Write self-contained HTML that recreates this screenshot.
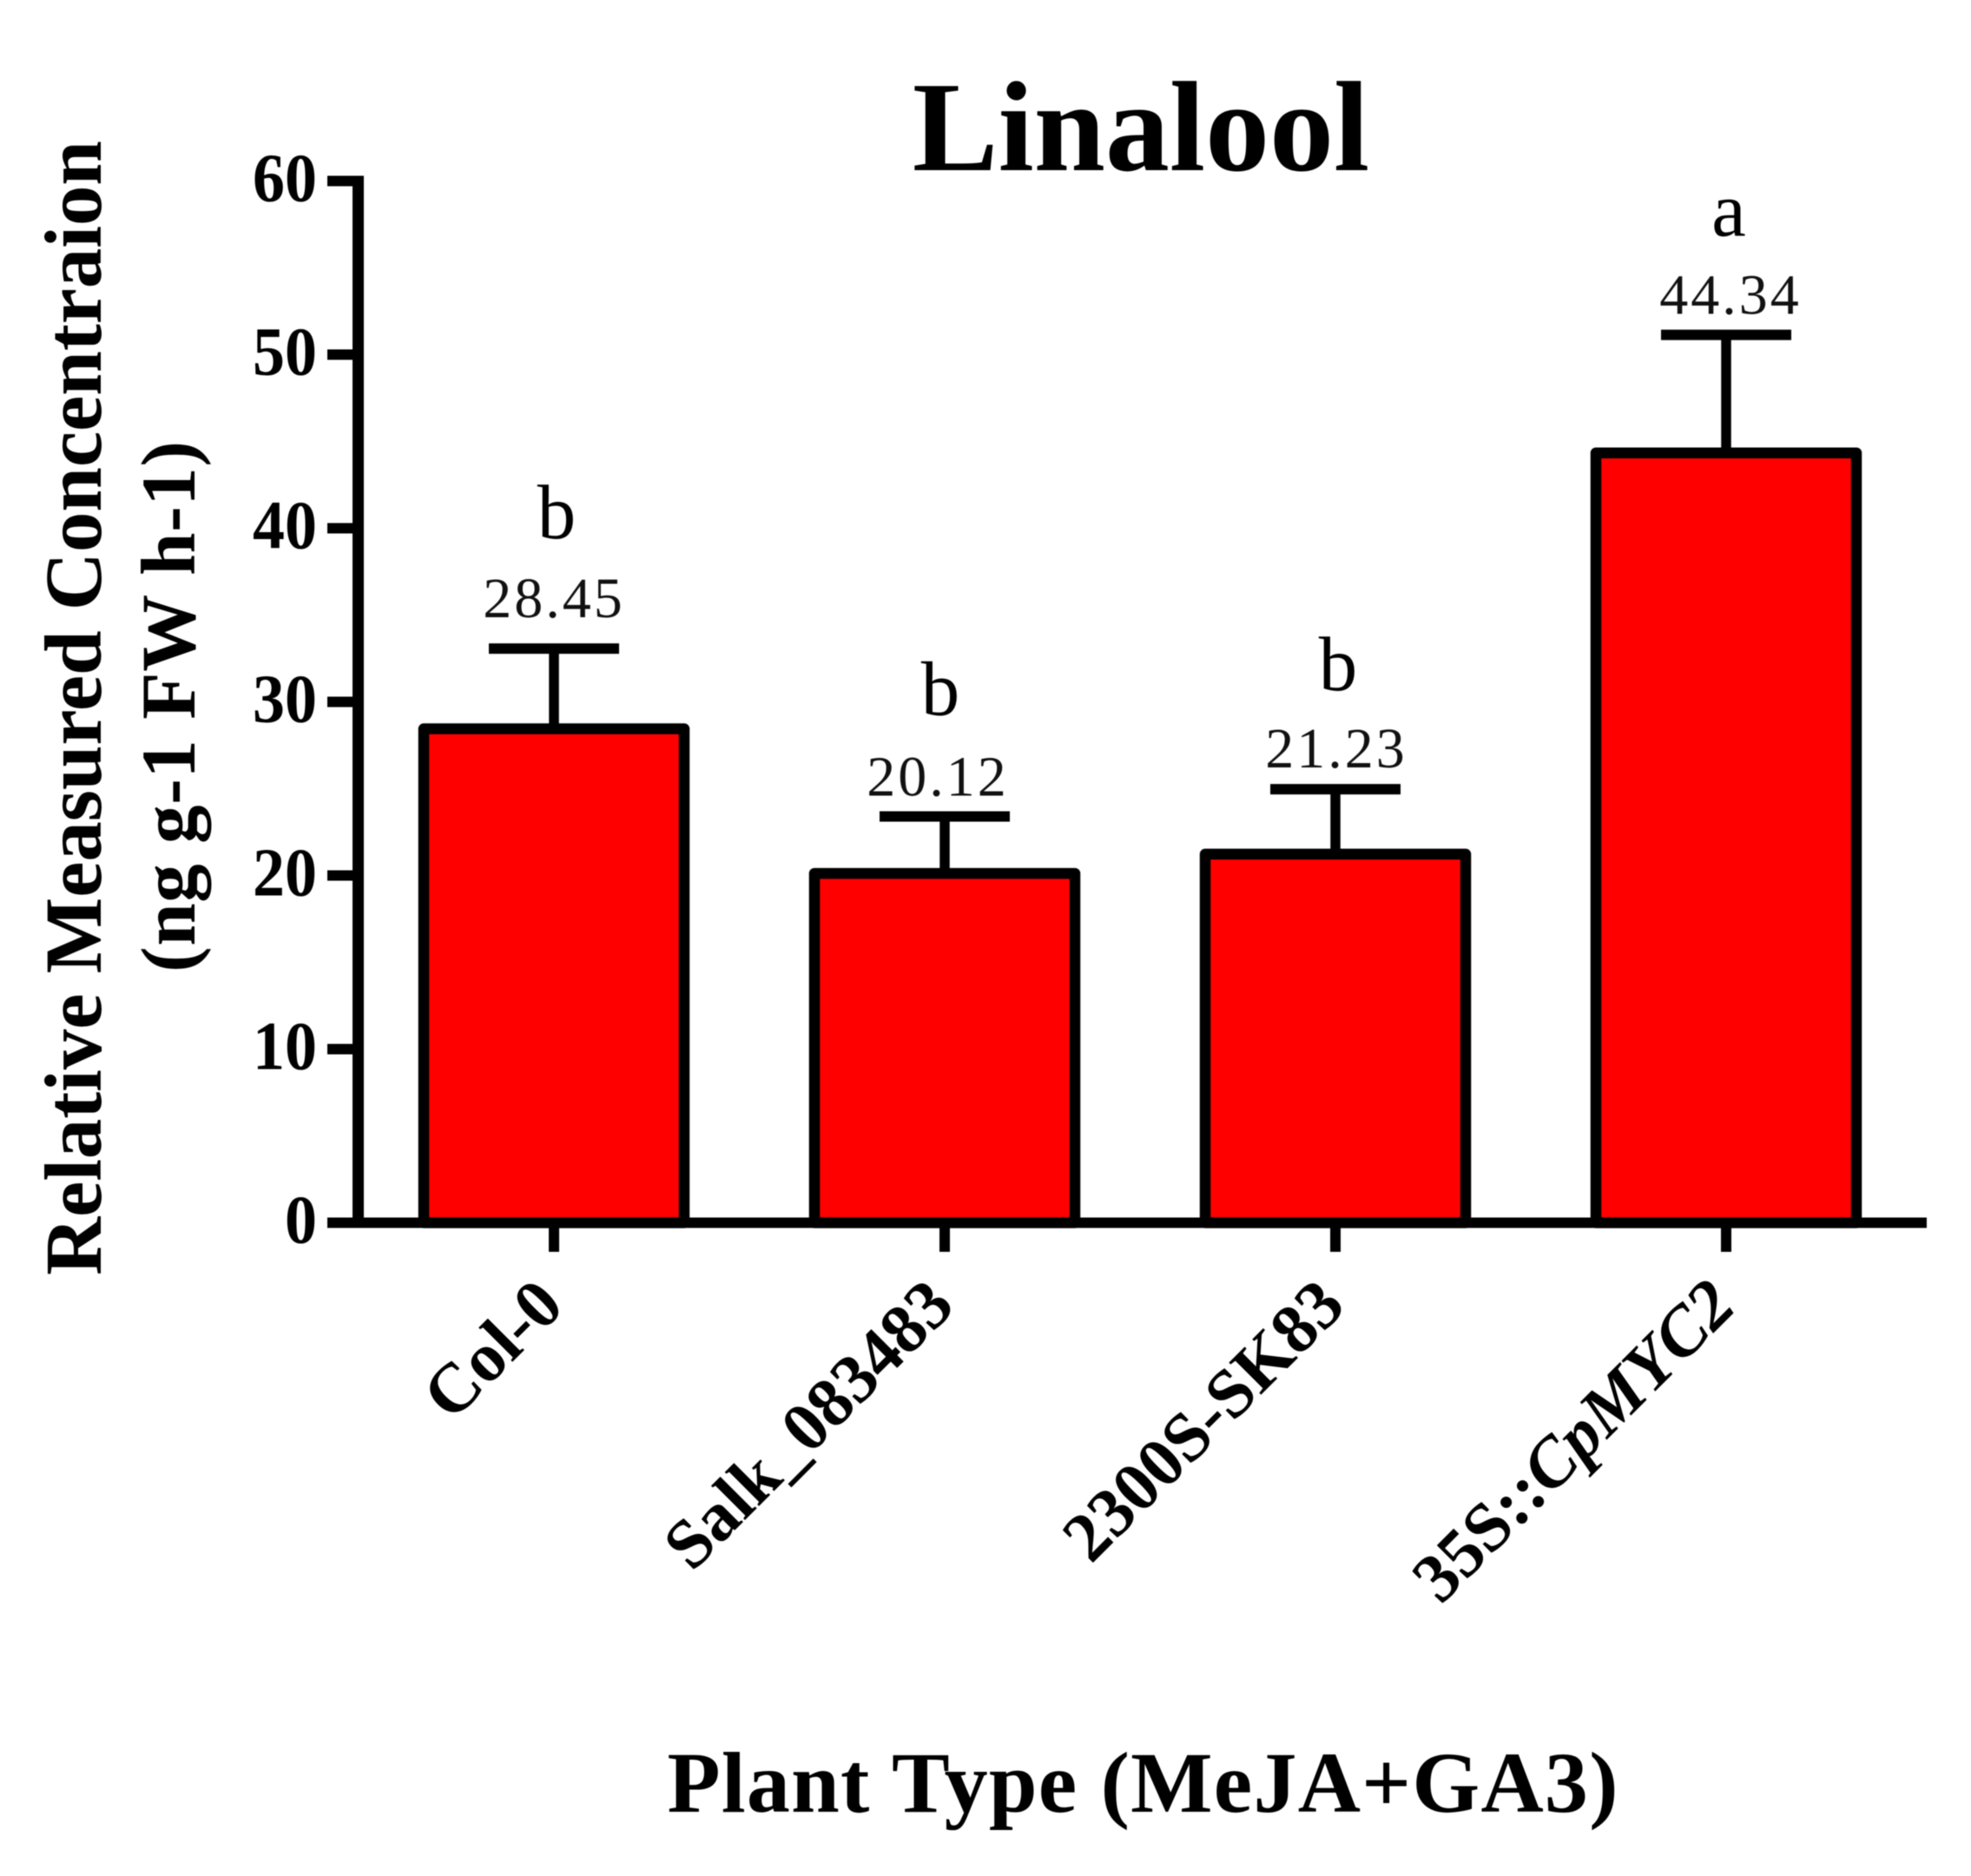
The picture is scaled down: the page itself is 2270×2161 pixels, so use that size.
<!DOCTYPE html>
<html>
<head>
<meta charset="utf-8">
<title>Linalool</title>
<style>
html,body{margin:0;padding:0;background:#fff}
svg{display:block;filter:blur(0.5px)}
text{font-family:"Liberation Serif","DejaVu Serif",serif;fill:#000}
</style>
</head>
<body>
<svg id="chart" xmlns="http://www.w3.org/2000/svg" width="2270" height="2161" viewBox="0 0 2270 2161">
<rect x="0" y="0" width="2270" height="2161" fill="#fff"/>
<text x="1314" y="196" font-size="148" font-weight="bold" text-anchor="middle">Linalool</text>
<text transform="translate(116,815.5) rotate(-90)" font-size="93" font-weight="bold" text-anchor="middle" textLength="1307">Relative Measured Concentraion</text>
<text transform="translate(224,814) rotate(-90)" font-size="89" font-weight="bold" text-anchor="middle" textLength="612">(ng g-1 FW h-1)</text>
<text x="1316" y="2087" font-size="100" font-weight="bold" text-anchor="middle" textLength="1095">Plant Type (MeJA+GA3)</text>
<g id="marks"></g>
</svg>
<script>
const categories = ['Col-0', 'Salk_083483', '2300S-SK83', '35S::CpMYC2'];
const italicSuffixes = ['', '', '', 'CpMYC2'];
const values = [28.45, 20.12, 21.23, 44.34];
const errors = [4.62, 3.28, 3.74, 6.8];
const sigLetters = ['b', 'b', 'b', 'a'];
const yTickLabels = [0, 10, 20, 30, 40, 50, 60];

const svgNS = 'http://www.w3.org/2000/svg';
const marks = document.getElementById('marks');
const y0Px = 1408.5, pxPerUnit = 20, x0Px = 638, stepPx = 450;
const yScale = function (v) { return y0Px - v * pxPerUnit; };
const xScale = function (i) { return x0Px + i * stepPx; };

function make(tag, attrs, text) {
  const el = document.createElementNS(svgNS, tag);
  Object.keys(attrs).forEach(function (k) { el.setAttribute(k, attrs[k]); });
  if (text !== undefined) el.textContent = text;
  marks.appendChild(el);
  return el;
}

const valueGap = [36, 24, 25, 24];
const letterGap = [127, 117, 114, 114];
const valueNudge = [0, -8, 1, 5];
const letterNudge = [3, -5, 3, 3];

categories.forEach(function (cat, i) {
  const cx = xScale(i);
  const top = yScale(values[i]);
  const capY = yScale(values[i] + errors[i]);

  const stem = make('line', { x1: cx, x2: cx, y1: capY, y2: top, stroke: '#000', 'stroke-width': 11.5 });
  
  

  const cap = make('line', { x1: cx - 75, x2: cx + 75, y1: capY, y2: capY, stroke: '#000', 'stroke-width': 12 });
  
  

  const bar = make('rect', { x: cx - 150, y: top, width: 300, height: y0Px - top, fill: '#ff0000', stroke: '#000', 'stroke-width': 12.5, 'stroke-linejoin': 'round' });
  
  

  const valueLabel = make('text', { x: cx + valueNudge[i], y: capY - valueGap[i], 'font-size': 66, 'text-anchor': 'middle', 'letter-spacing': 3, style: 'fill:#111' }, values[i].toFixed(2));
  
  

  const letter = make('text', { x: cx + letterNudge[i], y: capY - letterGap[i], 'font-size': 89, 'text-anchor': 'middle' }, sigLetters[i]);
  
  

  const tick = make('line', { x1: cx, x2: cx, y1: y0Px, y2: 1442, stroke: '#000', 'stroke-width': 12 });
  
  

  const lx = cx + 14, ly = 1507;
  const label = make('text', { transform: 'translate(' + lx + ',' + ly + ') rotate(-45)', 'font-size': 80, 'font-weight': 'bold', 'text-anchor': 'end' });
  
  
  const suffix = italicSuffixes[i];
  const plain = document.createElementNS(svgNS, 'tspan');
  plain.textContent = suffix ? cat.slice(0, cat.length - suffix.length) : cat;
  label.appendChild(plain);
  if (suffix) {
    const it = document.createElementNS(svgNS, 'tspan');
    it.setAttribute('font-style', 'italic');
    it.textContent = suffix;
    label.appendChild(it);
  }
});

const yAxis = make('line', { x1: 412.5, x2: 412.5, y1: yScale(60) - 6, y2: y0Px, stroke: '#000', 'stroke-width': 13 });



const xAxis = make('line', { x1: 377, x2: 2219, y1: y0Px, y2: y0Px, stroke: '#000', 'stroke-width': 12 });



yTickLabels.forEach(function (t) {
  const yy = yScale(t);
  const tick = make('line', { x1: 377, x2: 412, y1: yy, y2: yy, stroke: '#000', 'stroke-width': 12 });
  
  
  const label = make('text', { transform: 'translate(365,' + (yy + 23) + ') scale(1,1.08)', 'font-size': 74, 'font-weight': 'bold', 'text-anchor': 'end' }, String(t));
  
  
});
</script>
</body>
</html>
